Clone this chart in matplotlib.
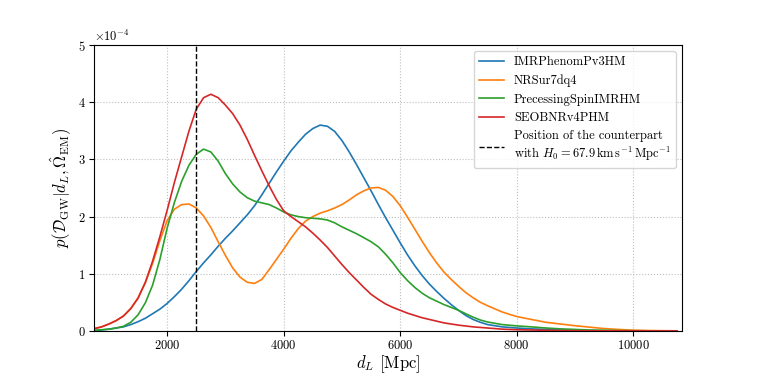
import matplotlib
matplotlib.use("Agg")
import matplotlib.pyplot as plt
import numpy as np

plt.rcParams["font.family"] = "serif"
plt.rcParams["font.serif"] = ["cmr10"]
plt.rcParams["mathtext.fontset"] = "cm"
plt.rcParams["axes.formatter.use_mathtext"] = True

# luminosity distance grid (Mpc): finer where the curves bend, coarser in the tail
d_L = np.concatenate([np.arange(750, 7501, 125), np.arange(7750, 10751, 250)])

# posterior densities, in units of 1e-4
imrphenom = [0.005, 0.015, 0.03, 0.05, 0.07, 0.11, 0.16, 0.22, 0.30, 0.38,
             0.48, 0.60, 0.73, 0.88, 1.04, 1.19, 1.33, 1.48, 1.62, 1.75,
             1.89, 2.03, 2.19, 2.38, 2.58, 2.78, 2.97, 3.15, 3.30, 3.44,
             3.54, 3.60, 3.58, 3.49, 3.33, 3.13, 2.91, 2.68, 2.45, 2.21,
             1.98, 1.76, 1.54, 1.33, 1.14, 0.97, 0.82, 0.69, 0.57, 0.46,
             0.36, 0.27, 0.20, 0.15, 0.11,
             0.07, 0.05, 0.035, 0.025, 0.015, 0.01, 0.005, 0.003, 0.002, 0.001, 0.0, 0.0, 0.0]
nrsur = [0.04, 0.07, 0.12, 0.18, 0.26, 0.39, 0.58, 0.84, 1.18, 1.58,
         1.93, 2.13, 2.21, 2.22, 2.15, 2.01, 1.81, 1.56, 1.32, 1.10,
         0.94, 0.85, 0.83, 0.90, 1.07, 1.25, 1.43, 1.62, 1.79, 1.92,
         2.00, 2.06, 2.10, 2.15, 2.21, 2.29, 2.38, 2.45, 2.50, 2.51,
         2.46, 2.35, 2.19, 1.99, 1.78, 1.57, 1.37, 1.19, 1.03, 0.90,
         0.78, 0.67, 0.58, 0.50, 0.44,
         0.33, 0.25, 0.20, 0.15, 0.12, 0.09, 0.065, 0.04, 0.025, 0.012, 0.006, 0.003, 0.001]
precessing = [0.01, 0.02, 0.03, 0.05, 0.08, 0.15, 0.28, 0.49, 0.80, 1.25,
              1.80, 2.25, 2.62, 2.90, 3.09, 3.18, 3.13, 2.97, 2.75, 2.57,
              2.43, 2.33, 2.27, 2.24, 2.21, 2.15, 2.08, 2.03, 2.00, 1.98,
              1.97, 1.96, 1.94, 1.89, 1.82, 1.76, 1.70, 1.63, 1.56, 1.47,
              1.34, 1.19, 1.02, 0.88, 0.76, 0.66, 0.58, 0.52, 0.46, 0.41,
              0.36, 0.30, 0.24, 0.19, 0.155,
              0.11, 0.087, 0.07, 0.05, 0.035, 0.025, 0.015, 0.01, 0.005, 0.003, 0.001, 0.0, 0.0]
seobnr = [0.04, 0.07, 0.12, 0.18, 0.26, 0.39, 0.57, 0.85, 1.22, 1.65,
          2.11, 2.60, 3.05, 3.50, 3.88, 4.08, 4.14, 4.08, 3.95, 3.80,
          3.60, 3.35, 3.07, 2.80, 2.54, 2.30, 2.10, 2.00, 1.91, 1.82,
          1.71, 1.59, 1.46, 1.31, 1.16, 1.02, 0.89, 0.76, 0.64, 0.55,
          0.47, 0.41, 0.36, 0.31, 0.27, 0.23, 0.20, 0.17, 0.14, 0.12,
          0.10, 0.085, 0.07, 0.06, 0.05,
          0.03, 0.02, 0.015, 0.01, 0.005, 0.003, 0.002, 0.001, 0.0, 0.0, 0.0, 0.0, 0.0]

labels = ["IMRPhenomPv3HM", "NRSur7dq4", "PrecessingSpinIMRHM", "SEOBNRv4PHM"]
counterpart = 2500

fig, ax = plt.subplots(figsize=(7.58, 3.79), dpi=100)
fig.subplots_adjust(left=0.124, right=0.9, bottom=0.127, top=0.881)

for series, lab in zip([imrphenom, nrsur, precessing, seobnr], labels):
    ax.plot(d_L, np.array(series) * 1e-4, lw=1.2, label=lab)

ax.axvline(counterpart, color="k", ls="--", lw=1.0,
           label="Position of the counterpart\n"
                 r"with $H_0 = 67.9\,\mathrm{km}\,\mathrm{s}^{-1}\,\mathrm{Mpc}^{-1}$")

ax.set_xlim(744, 10840)
ax.set_ylim(0, 5e-4)
ax.set_xticks([2000, 4000, 6000, 8000, 10000])
ax.ticklabel_format(axis="y", style="sci", scilimits=(0, 0))
ax.tick_params(labelsize=9, pad=2.5)
ax.yaxis.get_offset_text().set_fontsize(9)
ax.grid(True, ls=":", color="0.75", lw=0.8)

ax.set_xlabel(r"$d_L$ [Mpc]", fontsize=12, labelpad=1)
ax.set_ylabel(r"$p(\mathcal{D}_\mathrm{GW}|d_L, \hat{\Omega}_\mathrm{EM})$", fontsize=12, labelpad=3)
ax.legend(loc="upper right", fontsize=9)

fig.savefig("out.png", dpi=100)
